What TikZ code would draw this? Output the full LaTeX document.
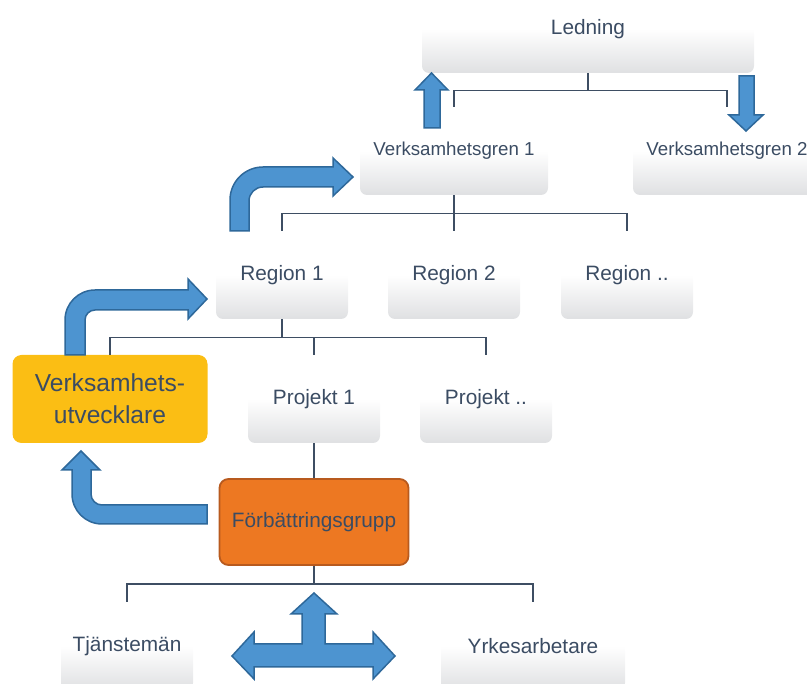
\documentclass[tikz,border=0pt]{standalone}
\usepackage{fontspec}
\setmainfont{Liberation Sans}
\usetikzlibrary{positioning}

\definecolor{inktext}{RGB}{59,76,99}
\definecolor{boxgray}{RGB}{223,224,226}
\definecolor{linkgray}{RGB}{62,78,99}
\definecolor{arrowfill}{RGB}{77,148,208}
\definecolor{arrowedge}{RGB}{46,104,154}
\definecolor{devyellow}{RGB}{251,190,20}
\definecolor{grouporange}{RGB}{237,120,34}
\definecolor{groupedge}{RGB}{184,90,30}

\begin{document}
\begin{tikzpicture}[
    x=1pt, y=-1pt,
    font=\fontsize{20.8}{24}\selectfont, text=inktext,
    unit/.style={minimum height=88pt, rounded corners=7pt, inner sep=0pt, align=center,
        top color=white, bottom color=boxgray, middle color=white},
    narrow/.style={unit, minimum width=132pt},
    wide/.style={unit, minimum width=188pt, font=\fontsize{18.7}{22}\selectfont},
    dev/.style={minimum width=195pt, minimum height=88pt, rounded corners=9pt, inner sep=0pt,
        align=center, fill=devyellow, font=\fontsize{24.6}{32}\selectfont},
    grp/.style={minimum width=189pt, minimum height=86pt, rounded corners=9pt, inner sep=0pt,
        align=center, fill=grouporange, draw=groupedge, line width=1.8pt},
    link/.style={draw=linkgray, line width=1.3pt},
    block/.style={fill=arrowfill, draw=arrowedge, line width=1.5pt, line join=miter}
]
\useasboundingbox (0,0) rectangle (807,684);
\clip (0,0) rectangle (807,684);

% levels
\node[unit, minimum width=332pt] (led) at (588,29) {Ledning};
\node[wide] (vg1) at (454,151) {Verksamhetsgren 1};
\node[wide] (vg2) at (727,151) {Verksamhetsgren 2};
\node[narrow] (r1) at (282,275) {Region 1};
\node[narrow] (r2) at (454,275) {Region 2};
\node[narrow] (rn) at (627,275) {Region ..};
\node[dev] (dev) at (110,399) {Verksamhets-\\utvecklare};
\node[narrow] (p1) at (314,399) {Projekt 1};
\node[narrow] (pn) at (486,399) {Projekt ..};
\node[grp] (grp) at (314,522) {Förbättringsgrupp};
\node[narrow] (tj) at (127,646) {Tjänstemän};
\node[unit, minimum width=184pt] (yrk) at (533,646) {Yrkesarbetare};

% connectors
\draw[link] (led.south) -- ++(0,17) -| (vg1.north);
\draw[link] (led.south) -- ++(0,17) -| (vg2.north);
\draw[link] (vg1.south) -- (r2.north);
\draw[link] (vg1.south) -- ++(0,18) -| (r1.north);
\draw[link] (vg1.south) -- ++(0,18) -| (rn.north);
\draw[link] (r1.south) -- ++(0,18) -| (dev.north);
\draw[link] (r1.south) -- ++(0,18) -| (p1.north);
\draw[link] (r1.south) -- ++(0,18) -| (pn.north);
\draw[link] (p1.south) -- (grp.north);
\draw[link] (grp.south) -- ++(0,18) -| (tj.north);
\draw[link] (grp.south) -- ++(0,18) -| (yrk.north);

% block arrows
\draw[block] (424,128) -- (424,90) -- (415,90) -- (431.5,73) -- (448,90) -- (440,90) -- (440,128) -- cycle;
\draw[block] (739,76) -- (754,76) -- (754,115) -- (763,115) -- (746,131) -- (729,115) -- (739,115) -- cycle;
\draw[block] (230,231) -- (230,200) arc[start angle=180, end angle=270, radius=33]
    -- (333,167) -- (333,158) -- (353,177) -- (333,196) -- (333,187) -- (263,187)
    arc[start angle=270, end angle=180, radius=14] -- (249,231) -- cycle;
\draw[block] (65,355) -- (65,320) arc[start angle=180, end angle=270, radius=30]
    -- (188,290) -- (188,279) -- (207,299) -- (188,319) -- (188,310) -- (95,310)
    arc[start angle=270, end angle=180, radius=10] -- (85,355) -- cycle;
\draw[block] (207,505) -- (102,505) arc[start angle=90, end angle=180, radius=11]
    -- (91,470) -- (100,470) -- (81,451) -- (62,470) -- (72,470) -- (72,494)
    arc[start angle=180, end angle=90, radius=30] -- (207,524) -- cycle;
\draw[block] (314,593) -- (337,614) -- (325,614) -- (325,644) -- (373,644) -- (373,632)
    -- (395,656) -- (373,679) -- (373,667) -- (254,667) -- (254,679) -- (232,656)
    -- (254,632) -- (254,644) -- (302,644) -- (302,614) -- (291,614) -- cycle;

\end{tikzpicture}
\end{document}
